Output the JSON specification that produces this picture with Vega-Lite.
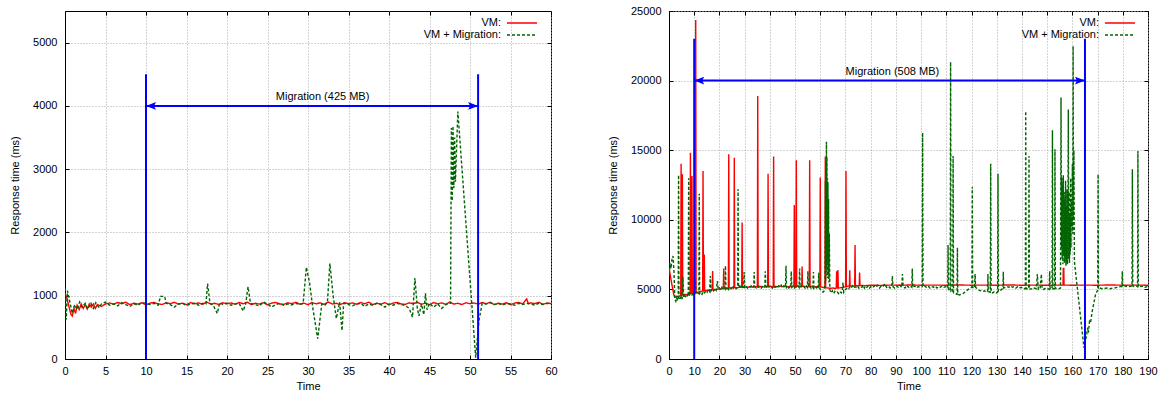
{
  "$schema": "https://vega.github.io/schema/vega-lite/v6.json",
  "padding": {"left": 9, "top": 4, "right": 5, "bottom": 1},
  "spacing": 118,
  "bounds": "flush",
  "resolve": {"scale": {"color": "independent", "strokeDash": "independent"}, "legend": {"color": "independent", "strokeDash": "independent"}},
  "config": {
    "font": "Liberation Sans",
    "view": {"stroke": "#000000", "strokeWidth": 1},
    "axis": {
      "labelFont": "Liberation Sans", "titleFont": "Liberation Sans",
      "labelFontSize": 11, "titleFontSize": 11, "titleFontWeight": "normal",
      "labelColor": "#000000", "titleColor": "#000000",
      "tickColor": "#000000", "domainColor": "#000000", "tickSize": -4,
      "gridColor": "#a8a8a8", "gridDash": [1, 2], "gridWidth": 1, "gridOpacity": 1,
      "labelFlush": false, "labelOverlap": false, "format": "d"
    },
    "axisX": {"labelPadding": 10, "titlePadding": 4},
    "axisY": {"labelPadding": 12, "titlePadding": 12},
    "legend": {
      "orient": "none", "padding": 0, "rowPadding": 1,
      "symbolType": "M-3,0H3", "symbolSize": 100, "symbolStrokeWidth": 1.5,
      "labelFont": "Liberation Sans", "labelFontSize": 11, "labelColor": "#000000",
      "labelAlign": "right", "labelOffset": -27
    }
  },
  "datasets": {
    "lvm": [
      {"t":0,"v":1030},{"t":0.25,"v":960},{"t":0.5,"v":820},{"t":0.75,"v":700},{"t":0.9,"v":680},{"t":1.1,"v":800},{"t":1.3,"v":720},{"t":1.5,"v":850},{"t":1.75,"v":780},{"t":2,"v":870},{"t":2.25,"v":800},{"t":2.5,"v":860},{"t":2.75,"v":790},{"t":3,"v":870},{"t":3.25,"v":820},{"t":3.5,"v":870},{"t":3.75,"v":800},{"t":4,"v":860},{"t":4.5,"v":830},{"t":5,"v":870},
      {"t":5.5,"v":886},{"t":6,"v":866},{"t":6.5,"v":893},{"t":7,"v":873},{"t":7.5,"v":898},{"t":8,"v":860},{"t":8.5,"v":881},{"t":9,"v":868},{"t":9.5,"v":890},{"t":10,"v":856},{"t":10.5,"v":884},{"t":11,"v":894},{"t":11.5,"v":870},{"t":12,"v":863},{"t":12.5,"v":888},{"t":13,"v":875},{"t":13.5,"v":896},{"t":14,"v":866},{"t":14.5,"v":883},{"t":15,"v":858},{"t":15.5,"v":892},{"t":16,"v":872},{"t":16.5,"v":887},{"t":17,"v":864},{"t":17.5,"v":900},{"t":18,"v":869},{"t":18.5,"v":880},{"t":19,"v":861},{"t":19.5,"v":889},{"t":20,"v":874},{"t":20.5,"v":886},{"t":21,"v":866},{"t":21.5,"v":893},{"t":22,"v":873},{"t":22.5,"v":898},{"t":23,"v":860},{"t":23.5,"v":881},{"t":24,"v":868},{"t":24.5,"v":890},{"t":25,"v":856},{"t":25.5,"v":884},{"t":26,"v":894},{"t":26.5,"v":870},{"t":27,"v":863},{"t":27.5,"v":888},{"t":28,"v":875},{"t":28.5,"v":896},{"t":29,"v":866},{"t":29.5,"v":883},{"t":30,"v":858},{"t":30.5,"v":892},{"t":31,"v":872},{"t":31.5,"v":887},{"t":32,"v":864},{"t":32.5,"v":900},{"t":33,"v":869},{"t":33.5,"v":880},{"t":34,"v":861},{"t":34.5,"v":889},{"t":35,"v":874},{"t":35.5,"v":886},{"t":36,"v":866},{"t":36.5,"v":893},{"t":37,"v":873},{"t":37.5,"v":898},{"t":38,"v":860},{"t":38.5,"v":881},{"t":39,"v":868},{"t":39.5,"v":890},{"t":40,"v":856},{"t":40.5,"v":884},{"t":41,"v":894},{"t":41.5,"v":870},{"t":42,"v":863},{"t":42.5,"v":888},{"t":43,"v":875},{"t":43.5,"v":896},{"t":44,"v":866},{"t":44.5,"v":883},{"t":45,"v":858},{"t":45.5,"v":892},{"t":46,"v":872},{"t":46.5,"v":887},{"t":47,"v":864},{"t":47.5,"v":900},{"t":48,"v":869},{"t":48.5,"v":880},{"t":49,"v":861},{"t":49.5,"v":889},{"t":50,"v":874},{"t":50.5,"v":886},{"t":51,"v":866},{"t":51.5,"v":893},{"t":52,"v":873},{"t":52.5,"v":898},{"t":53,"v":860},{"t":53.5,"v":881},{"t":54,"v":868},{"t":54.5,"v":890},{"t":55,"v":856},{"t":55.5,"v":884},{"t":56,"v":894},{"t":56.5,"v":870},{"t":57,"v":950},{"t":57.2,"v":875},{"t":57.5,"v":888},{"t":58,"v":875},{"t":58.5,"v":896},{"t":59,"v":866},{"t":59.5,"v":883},{"t":60,"v":878}
    ],
    "lmig": [
      {"t":0,"v":1120},{"t":0.15,"v":620},{"t":0.3,"v":1080},{"t":0.6,"v":900},{"t":0.9,"v":720},{"t":1.2,"v":860},{"t":1.5,"v":780},{"t":1.8,"v":900},{"t":2.1,"v":820},{"t":2.5,"v":880},{"t":2.8,"v":790},{"t":3.2,"v":880},{"t":3.5,"v":800},{"t":3.8,"v":890},{"t":4.2,"v":810},{"t":4.5,"v":870},{"t":5,"v":900},{"t":5.5,"v":850},{"t":6,"v":870},{"t":6.5,"v":840},{"t":7,"v":890},{"t":7.5,"v":860},{"t":8,"v":830},{"t":8.5,"v":875},{"t":9,"v":850},{"t":9.5,"v":890},{"t":10,"v":880},{"t":10.5,"v":860},{"t":11,"v":880},{"t":11.5,"v":850},{"t":11.8,"v":990},{"t":12.3,"v":990},{"t":12.5,"v":880},{"t":13,"v":860},{"t":13.5,"v":820},{"t":14,"v":870},{"t":14.5,"v":880},{"t":15,"v":845},{"t":15.5,"v":870},{"t":16,"v":880},{"t":16.5,"v":850},{"t":17,"v":880},{"t":17.4,"v":870},{"t":17.6,"v":1190},{"t":17.9,"v":880},{"t":18.3,"v":850},{"t":18.8,"v":720},{"t":19.1,"v":890},{"t":19.5,"v":860},{"t":20,"v":880},{"t":20.5,"v":850},{"t":21,"v":870},{"t":21.5,"v":880},{"t":22,"v":760},{"t":22.3,"v":870},{"t":22.6,"v":1140},{"t":22.9,"v":880},{"t":23.5,"v":860},{"t":24,"v":840},{"t":24.5,"v":900},{"t":25,"v":870},{"t":25.5,"v":820},{"t":26,"v":860},{"t":26.5,"v":880},{"t":27,"v":850},{"t":27.5,"v":870},{"t":28,"v":855},{"t":28.5,"v":880},{"t":29,"v":860},{"t":29.4,"v":880},{"t":29.8,"v":1450},{"t":30.2,"v":1200},{"t":30.6,"v":800},{"t":31.2,"v":320},{"t":31.7,"v":870},{"t":32.1,"v":850},{"t":32.4,"v":900},{"t":32.7,"v":1510},{"t":33.1,"v":1000},{"t":33.5,"v":640},{"t":33.9,"v":900},{"t":34.2,"v":450},{"t":34.4,"v":880},{"t":35,"v":860},{"t":35.5,"v":840},{"t":36,"v":870},{"t":36.5,"v":880},{"t":37,"v":830},{"t":37.5,"v":870},{"t":38,"v":850},{"t":38.5,"v":880},{"t":39,"v":860},{"t":39.5,"v":820},{"t":40,"v":870},{"t":40.5,"v":850},{"t":41,"v":880},{"t":41.5,"v":860},{"t":42,"v":845},{"t":42.5,"v":800},{"t":42.9,"v":660},{"t":43.2,"v":1280},{"t":43.5,"v":800},{"t":43.7,"v":680},{"t":44,"v":870},{"t":44.3,"v":700},{"t":44.5,"v":1040},{"t":44.7,"v":780},{"t":45,"v":880},{"t":45.5,"v":820},{"t":46,"v":870},{"t":46.5,"v":800},{"t":47,"v":860},{"t":47.5,"v":880},{"t":47.6,"v":880},{"t":47.7,"v":3650},{"t":47.8,"v":2500},{"t":47.9,"v":3680},{"t":48,"v":2700},{"t":48.1,"v":3500},{"t":48.2,"v":2800},{"t":48.5,"v":3910},{"t":50.7,"v":20},{"t":50.9,"v":300},{"t":51.1,"v":600},{"t":51.5,"v":880},{"t":52,"v":870},{"t":52.5,"v":890},{"t":53,"v":860},{"t":53.5,"v":880},{"t":54,"v":850},{"t":54.5,"v":880},{"t":55,"v":870},{"t":55.5,"v":850},{"t":56,"v":880},{"t":56.5,"v":860},{"t":57,"v":880},{"t":57.5,"v":870},{"t":58,"v":850},{"t":58.5,"v":880},{"t":59,"v":860},{"t":59.5,"v":880},{"t":60,"v":870}
    ],
    "rvm": [
      {"t":0,"v":6600},{"t":0.5,"v":6000},{"t":1,"v":5500},{"t":1.5,"v":5000},{"t":2,"v":4550},{"t":2.5,"v":4450},{"t":3,"v":4500},{"t":3.5,"v":4480},{"t":4.65,"v":4560},{"t":4.8,"v":14030},{"t":4.95,"v":4580},{"t":5.15,"v":4590},{"t":5.3,"v":13270},{"t":5.45,"v":4600},{"t":6,"v":4640},{"t":7,"v":4620},{"t":8,"v":4700},{"t":8.35,"v":4690},{"t":8.5,"v":14820},{"t":8.65,"v":4700},{"t":8.95,"v":4710},{"t":9.1,"v":13150},{"t":9.25,"v":4720},{"t":10,"v":4760},{"t":10.45,"v":4770},{"t":10.6,"v":24350},{"t":10.75,"v":4780},{"t":11,"v":4800},{"t":12,"v":4820},{"t":13,"v":4870},{"t":13.35,"v":4880},{"t":13.5,"v":13500},{"t":13.65,"v":4890},{"t":13.85,"v":4890},{"t":14,"v":7500},{"t":14.15,"v":4900},{"t":15,"v":4920},{"t":16,"v":4960},{"t":17.15,"v":4980},{"t":17.3,"v":6320},{"t":17.45,"v":4980},{"t":18,"v":4950},{"t":19,"v":5000},{"t":20,"v":5020},{"t":21,"v":5050},{"t":21.55,"v":5060},{"t":21.7,"v":6500},{"t":21.85,"v":5060},{"t":22,"v":5080},{"t":23,"v":5060},{"t":23.55,"v":5100},{"t":23.7,"v":14700},{"t":23.85,"v":5100},{"t":24,"v":5120},{"t":25,"v":5090},{"t":25.75,"v":5140},{"t":25.9,"v":14460},{"t":26.05,"v":5140},{"t":27,"v":5110},{"t":28,"v":5160},{"t":28.85,"v":5150},{"t":29,"v":9800},{"t":29.15,"v":5150},{"t":30,"v":5180},{"t":31,"v":5140},{"t":32,"v":5200},{"t":33,"v":5170},{"t":34,"v":5210},{"t":35.05,"v":5180},{"t":35.2,"v":18900},{"t":35.35,"v":5180},{"t":36,"v":5220},{"t":37,"v":5170},{"t":38,"v":5200},{"t":39.15,"v":5190},{"t":39.3,"v":13300},{"t":39.45,"v":5190},{"t":40,"v":5230},{"t":41,"v":5180},{"t":41.35,"v":5200},{"t":41.5,"v":14540},{"t":41.65,"v":5200},{"t":42,"v":5220},{"t":43,"v":5190},{"t":44,"v":5240},{"t":45,"v":5200},{"t":46,"v":5230},{"t":47,"v":5180},{"t":48,"v":5220},{"t":49,"v":5200},{"t":49.55,"v":5210},{"t":49.7,"v":11060},{"t":49.85,"v":5210},{"t":50.35,"v":5200},{"t":50.5,"v":14270},{"t":50.65,"v":5200},{"t":51,"v":5240},{"t":52,"v":5190},{"t":52.65,"v":5200},{"t":52.8,"v":6650},{"t":52.95,"v":5200},{"t":53,"v":5230},{"t":54,"v":5210},{"t":55,"v":5180},{"t":55.65,"v":5220},{"t":55.8,"v":14270},{"t":55.95,"v":5220},{"t":56,"v":5200},{"t":57,"v":5230},{"t":58,"v":5190},{"t":59,"v":5210},{"t":59.85,"v":5180},{"t":60,"v":13030},{"t":60.15,"v":5180},{"t":61,"v":5150},{"t":61.85,"v":5120},{"t":62,"v":14540},{"t":62.15,"v":5120},{"t":63,"v":5100},{"t":64,"v":5080},{"t":65,"v":5100},{"t":66,"v":5060},{"t":66.35,"v":5100},{"t":66.5,"v":6300},{"t":66.65,"v":5100},{"t":66.85,"v":5100},{"t":67,"v":6400},{"t":67.15,"v":5100},{"t":68,"v":5120},{"t":69,"v":5150},{"t":70.05,"v":5200},{"t":70.2,"v":13500},{"t":70.35,"v":5200},{"t":71,"v":5230},{"t":71.55,"v":5240},{"t":71.7,"v":6370},{"t":71.85,"v":5240},{"t":72,"v":5250},{"t":73,"v":5240},{"t":73.65,"v":5260},{"t":73.8,"v":8190},{"t":73.95,"v":5260},{"t":74,"v":5250},{"t":75,"v":5270},{"t":75.45,"v":5270},{"t":75.6,"v":6220},{"t":75.75,"v":5270},{"t":76,"v":5280},{"t":78,"v":5270},{"t":80,"v":5300},{"t":84,"v":5290},{"t":88,"v":5310},{"t":92,"v":5300},{"t":96,"v":5320},{"t":100,"v":5300},{"t":105,"v":5310},{"t":110,"v":5300},{"t":115,"v":5320},{"t":120,"v":5300},{"t":125,"v":5310},{"t":130,"v":5300},{"t":135,"v":5320},{"t":140,"v":5300},{"t":145,"v":5310},{"t":150,"v":5300},{"t":156.3,"v":5310},{"t":156.4,"v":6500},{"t":156.6,"v":6500},{"t":156.7,"v":5310},{"t":160,"v":5300},{"t":165,"v":5310},{"t":170,"v":5300},{"t":175,"v":5320},{"t":180,"v":5300},{"t":185,"v":5310},{"t":190,"v":5300}
    ],
    "rmig": [
      {"t":0,"v":6000},{"t":0.4,"v":6900},{"t":0.8,"v":6500},{"t":1.2,"v":7200},{"t":1.6,"v":7400},{"t":2,"v":6200},{"t":2.3,"v":4300},{"t":2.7,"v":4150},{"t":3,"v":4400},{"t":3.4,"v":4200},{"t":3.65,"v":4300},{"t":3.8,"v":13220},{"t":3.95,"v":4350},{"t":4.4,"v":4250},{"t":4.8,"v":4500},{"t":5.2,"v":4300},{"t":5.5,"v":5900},{"t":5.8,"v":4400},{"t":6.3,"v":4550},{"t":6.8,"v":4400},{"t":7.3,"v":4600},{"t":7.65,"v":4500},{"t":7.8,"v":12980},{"t":7.95,"v":4500},{"t":8.4,"v":4700},{"t":8.9,"v":4550},{"t":9.4,"v":4650},{"t":9.9,"v":4600},{"t":10.4,"v":5700},{"t":10.7,"v":4650},{"t":11.2,"v":4750},{"t":11.85,"v":4700},{"t":12,"v":11880},{"t":12.15,"v":4700},{"t":12.6,"v":4800},{"t":13.1,"v":4650},{"t":13.6,"v":4850},{"t":14.1,"v":4750},{"t":14.6,"v":4900},{"t":15.1,"v":4800},{"t":15.6,"v":5000},{"t":16.1,"v":4850},{"t":16.4,"v":5960},{"t":16.7,"v":4900},{"t":17.2,"v":5050},{"t":17.7,"v":4900},{"t":18.2,"v":5100},{"t":18.7,"v":4950},{"t":19.2,"v":5600},{"t":19.5,"v":5000},{"t":20,"v":5100},{"t":20.5,"v":4950},{"t":21,"v":5150},{"t":21.5,"v":5000},{"t":22.2,"v":5050},{"t":22.4,"v":6700},{"t":22.6,"v":5050},{"t":23.1,"v":5200},{"t":23.6,"v":5000},{"t":24.1,"v":5150},{"t":24.6,"v":5050},{"t":25.1,"v":5250},{"t":25.6,"v":5100},{"t":26.1,"v":5200},{"t":26.6,"v":5050},{"t":27.25,"v":5150},{"t":27.4,"v":12190},{"t":27.55,"v":5150},{"t":28.1,"v":5250},{"t":28.6,"v":5100},{"t":29.1,"v":5200},{"t":29.6,"v":5150},{"t":29.8,"v":6250},{"t":30,"v":5150},{"t":30.6,"v":5250},{"t":31.1,"v":5100},{"t":31.6,"v":5200},{"t":32.1,"v":5150},{"t":32.6,"v":5250},{"t":33.1,"v":5100},{"t":33.6,"v":5200},{"t":33.8,"v":6250},{"t":34,"v":5200},{"t":34.6,"v":5100},{"t":35.1,"v":5250},{"t":35.6,"v":5150},{"t":36.1,"v":5200},{"t":36.6,"v":5100},{"t":37.1,"v":5250},{"t":37.6,"v":5150},{"t":38,"v":5200},{"t":38.2,"v":6300},{"t":38.4,"v":5200},{"t":39,"v":5100},{"t":39.5,"v":5250},{"t":40,"v":5150},{"t":40.5,"v":5200},{"t":41,"v":5100},{"t":41.5,"v":5250},{"t":42,"v":5150},{"t":42.5,"v":5200},{"t":43,"v":5100},{"t":43.5,"v":5250},{"t":44,"v":5150},{"t":44.5,"v":5300},{"t":45,"v":5100},{"t":45.5,"v":5250},{"t":46.2,"v":5150},{"t":46.4,"v":6700},{"t":46.6,"v":5150},{"t":47,"v":5250},{"t":47.5,"v":5100},{"t":48,"v":5200},{"t":48.3,"v":5150},{"t":48.5,"v":6300},{"t":48.7,"v":5150},{"t":49.2,"v":5250},{"t":49.7,"v":5100},{"t":50.2,"v":5200},{"t":50.7,"v":5150},{"t":51.2,"v":5250},{"t":51.6,"v":5150},{"t":51.8,"v":6500},{"t":52,"v":5150},{"t":52.5,"v":5250},{"t":53,"v":5100},{"t":53.5,"v":5200},{"t":54,"v":5100},{"t":54.5,"v":5250},{"t":54.9,"v":5150},{"t":55.1,"v":6300},{"t":55.3,"v":5150},{"t":55.8,"v":5200},{"t":56.3,"v":5100},{"t":56.8,"v":5250},{"t":57.1,"v":5150},{"t":57.3,"v":6250},{"t":57.5,"v":5100},{"t":58,"v":5200},{"t":58.5,"v":5100},{"t":59,"v":5200},{"t":59.2,"v":5100},{"t":59.4,"v":6200},{"t":59.6,"v":5100},{"t":60.1,"v":5000},{"t":60.6,"v":4900},{"t":61.1,"v":4800},{"t":61.6,"v":4900},{"t":61.9,"v":5500},{"t":62.05,"v":12800},{"t":62.15,"v":5600},{"t":62.25,"v":14200},{"t":62.35,"v":6000},{"t":62.45,"v":15600},{"t":62.55,"v":7000},{"t":62.65,"v":14500},{"t":62.75,"v":6500},{"t":62.85,"v":13000},{"t":62.95,"v":5800},{"t":63.05,"v":12700},{"t":63.15,"v":6000},{"t":63.3,"v":11500},{"t":63.45,"v":5500},{"t":63.6,"v":9000},{"t":63.8,"v":5000},{"t":64.3,"v":4750},{"t":64.8,"v":4900},{"t":65.3,"v":4700},{"t":65.8,"v":4850},{"t":66.3,"v":4750},{"t":66.8,"v":4800},{"t":67.3,"v":4700},{"t":67.8,"v":4850},{"t":68.3,"v":4750},{"t":68.8,"v":4900},{"t":69,"v":5500},{"t":69.3,"v":4800},{"t":69.8,"v":4950},{"t":70.3,"v":5050},{"t":70.8,"v":5150},{"t":71.3,"v":5050},{"t":71.8,"v":5200},{"t":72.3,"v":5100},{"t":72.8,"v":5250},{"t":73.3,"v":5100},{"t":73.8,"v":5200},{"t":74.3,"v":5150},{"t":74.8,"v":5250},{"t":75.3,"v":5100},{"t":75.8,"v":5200},{"t":76.5,"v":5150},{"t":77,"v":5300},{"t":77.5,"v":5100},{"t":78,"v":5250},{"t":78.5,"v":5150},{"t":79,"v":5250},{"t":79.5,"v":5100},{"t":80,"v":5200},{"t":80.7,"v":5100},{"t":81.4,"v":5250},{"t":82.1,"v":5150},{"t":82.8,"v":5300},{"t":83.5,"v":5100},{"t":84.2,"v":5250},{"t":84.9,"v":5200},{"t":85.6,"v":5400},{"t":86.3,"v":5150},{"t":87,"v":5250},{"t":87.7,"v":5100},{"t":88.4,"v":5200},{"t":88.6,"v":5960},{"t":88.8,"v":5200},{"t":89.5,"v":5100},{"t":90.2,"v":5250},{"t":90.9,"v":5150},{"t":91.6,"v":5300},{"t":92.3,"v":5150},{"t":92.6,"v":6100},{"t":92.9,"v":5200},{"t":93.6,"v":5100},{"t":94.3,"v":5300},{"t":95,"v":5150},{"t":95.7,"v":5250},{"t":96.3,"v":5150},{"t":96.5,"v":6500},{"t":96.7,"v":5150},{"t":97.4,"v":5250},{"t":98.1,"v":5100},{"t":98.8,"v":5200},{"t":99.5,"v":5150},{"t":100.45,"v":5200},{"t":100.6,"v":16260},{"t":100.75,"v":5200},{"t":101.4,"v":5250},{"t":102.1,"v":5150},{"t":102.8,"v":5250},{"t":103.5,"v":5100},{"t":104.2,"v":5200},{"t":104.9,"v":5150},{"t":105.6,"v":5250},{"t":106.3,"v":5100},{"t":107,"v":5200},{"t":107.7,"v":5150},{"t":108.4,"v":5250},{"t":109.1,"v":5150},{"t":109.8,"v":5200},{"t":110.55,"v":5100},{"t":110.7,"v":8190},{"t":110.85,"v":5000},{"t":111.55,"v":4900},{"t":111.7,"v":21340},{"t":111.85,"v":4850},{"t":112.55,"v":4800},{"t":112.7,"v":14580},{"t":112.85,"v":4750},{"t":113.5,"v":4700},{"t":114.25,"v":4650},{"t":114.4,"v":8000},{"t":114.55,"v":4650},{"t":115.2,"v":4600},{"t":115.9,"v":4650},{"t":116.6,"v":4700},{"t":117.3,"v":4800},{"t":118,"v":4900},{"t":118.7,"v":5000},{"t":119.4,"v":5100},{"t":120.15,"v":5150},{"t":120.3,"v":12360},{"t":120.45,"v":5150},{"t":121.2,"v":5100},{"t":121.4,"v":6100},{"t":121.6,"v":5150},{"t":122.3,"v":5050},{"t":123,"v":4950},{"t":123.7,"v":4900},{"t":124.4,"v":4850},{"t":125.1,"v":4900},{"t":125.8,"v":4800},{"t":126.35,"v":4850},{"t":126.5,"v":6100},{"t":126.65,"v":4850},{"t":127.45,"v":4800},{"t":127.6,"v":14030},{"t":127.75,"v":4800},{"t":128.4,"v":4750},{"t":129.1,"v":4850},{"t":129.8,"v":4750},{"t":130.35,"v":4800},{"t":130.5,"v":13300},{"t":130.65,"v":4850},{"t":131.3,"v":4900},{"t":132,"v":5000},{"t":132.45,"v":5100},{"t":132.6,"v":6270},{"t":132.75,"v":5100},{"t":133.4,"v":5150},{"t":134.1,"v":5200},{"t":134.8,"v":5150},{"t":135.5,"v":5250},{"t":136.2,"v":5150},{"t":136.9,"v":5200},{"t":137.6,"v":5100},{"t":138.3,"v":5200},{"t":139,"v":5100},{"t":139.7,"v":5150},{"t":140.4,"v":5050},{"t":141.35,"v":5050},{"t":141.5,"v":17800},{"t":141.65,"v":5050},{"t":142.65,"v":5050},{"t":142.8,"v":14580},{"t":142.95,"v":5000},{"t":143.6,"v":5050},{"t":144.3,"v":5000},{"t":145,"v":5100},{"t":145.7,"v":5050},{"t":146.1,"v":6100},{"t":146.5,"v":5000},{"t":147.2,"v":5050},{"t":147.7,"v":6100},{"t":148,"v":5050},{"t":148.7,"v":5000},{"t":149.4,"v":5100},{"t":150.1,"v":5050},{"t":150.8,"v":5000},{"t":151,"v":6300},{"t":151.2,"v":5050},{"t":151.95,"v":5050},{"t":152.1,"v":16430},{"t":152.25,"v":5050},{"t":152.95,"v":5050},{"t":153.1,"v":15060},{"t":153.25,"v":5050},{"t":153.9,"v":5100},{"t":154.6,"v":5050},{"t":155.3,"v":5100},{"t":155.5,"v":18780},{"t":155.65,"v":8000},{"t":155.8,"v":13000},{"t":155.95,"v":7200},{"t":156.1,"v":12500},{"t":156.25,"v":6800},{"t":156.4,"v":13200},{"t":156.55,"v":7500},{"t":156.7,"v":12000},{"t":156.85,"v":6900},{"t":157,"v":11500},{"t":157.15,"v":7200},{"t":157.3,"v":12800},{"t":157.45,"v":6700},{"t":157.6,"v":11000},{"t":157.75,"v":7000},{"t":157.9,"v":12200},{"t":158.05,"v":6800},{"t":158.25,"v":11800},{"t":158.4,"v":17930},{"t":158.55,"v":7200},{"t":158.7,"v":12000},{"t":158.85,"v":6900},{"t":159,"v":10500},{"t":159.15,"v":7500},{"t":159.3,"v":13000},{"t":159.45,"v":8000},{"t":159.6,"v":11500},{"t":159.8,"v":9500},{"t":160,"v":14000},{"t":160.15,"v":9000},{"t":160.3,"v":22490},{"t":160.45,"v":10000},{"t":160.6,"v":15000},{"t":160.8,"v":7000},{"t":164.6,"v":810},{"t":165.2,"v":1300},{"t":165.7,"v":1800},{"t":166,"v":2150},{"t":166.4,"v":2000},{"t":166.8,"v":2700},{"t":167.2,"v":2600},{"t":167.9,"v":3450},{"t":168.5,"v":4000},{"t":169.2,"v":4650},{"t":169.9,"v":4900},{"t":170.05,"v":5000},{"t":170.2,"v":13270},{"t":170.35,"v":5030},{"t":170.9,"v":5100},{"t":171.6,"v":5050},{"t":172.3,"v":5100},{"t":173,"v":5080},{"t":174,"v":5100},{"t":175,"v":5050},{"t":176,"v":5100},{"t":177,"v":5120},{"t":178,"v":5150},{"t":179,"v":5200},{"t":179.65,"v":5200},{"t":179.8,"v":6300},{"t":179.95,"v":5200},{"t":180.7,"v":5250},{"t":181.4,"v":5200},{"t":182.1,"v":5250},{"t":182.8,"v":5200},{"t":183.65,"v":5250},{"t":183.8,"v":13630},{"t":183.95,"v":5250},{"t":184.6,"v":5200},{"t":185.3,"v":5250},{"t":185.85,"v":5200},{"t":186,"v":14940},{"t":186.15,"v":5200},{"t":186.8,"v":5250},{"t":187.5,"v":5200},{"t":188.2,"v":5250},{"t":188.9,"v":5150},{"t":189.6,"v":5200},{"t":190,"v":5200}
    ]
  },
  "hconcat": [
    {
      "width": 486,
      "height": 348,
      "layer": [
        {
          "data": {"name": "lvm"},
          "mark": {"type": "line", "strokeWidth": 1.4, "clip": true},
          "encoding": {
            "x": {"field": "t", "type": "quantitative", "scale": {"domain": [0, 60], "nice": false, "zero": false},
                  "axis": {"orient": "bottom", "title": "Time", "values": [0,5,10,15,20,25,30,35,40,45,50,55,60], "grid": true}},
            "y": {"field": "v", "type": "quantitative", "scale": {"domain": [0, 5500], "nice": false},
                  "axis": {"orient": "left", "title": "Response time (ms)", "values": [0,1000,2000,3000,4000,5000], "grid": true}},
            "color": {"datum": "VM", "type": "nominal", "scale": {"domain": ["VM", "VM + Migration"], "range": ["#ff0000", "#006400"]},
                      "legend": {"title": null, "labelExpr": "datum.label + ':'", "legendX": 451, "legendY": 6}},
            "strokeDash": {"datum": "VM", "type": "nominal", "scale": {"domain": ["VM", "VM + Migration"], "range": [[1, 0], [3, 2]]},
                           "legend": {"title": null, "labelExpr": "datum.label + ':'", "legendX": 451, "legendY": 6}}
          }
        },
        {
          "data": {"name": "lmig"},
          "mark": {"type": "line", "strokeWidth": 1.4, "clip": true},
          "encoding": {
            "x": {"field": "t", "type": "quantitative", "scale": {"domain": [0, 60], "nice": false, "zero": false}, "axis": null},
            "y": {"field": "v", "type": "quantitative", "scale": {"domain": [0, 5500], "nice": false}, "axis": null},
            "color": {"datum": "VM + Migration", "type": "nominal"},
            "strokeDash": {"datum": "VM + Migration", "type": "nominal"}
          }
        },
        {
          "data": {"values": [{"t": 10, "bottom": 0, "top": 4500}, {"t": 51, "bottom": 0, "top": 4500}]},
          "mark": {"type": "rule", "color": "#0000ff", "strokeWidth": 2},
          "encoding": {
            "x": {"field": "t", "type": "quantitative", "scale": {"domain": [0, 60], "nice": false, "zero": false}, "axis": null},
            "y": {"field": "bottom", "type": "quantitative", "scale": {"domain": [0, 5500], "nice": false}, "axis": null},
            "y2": {"field": "top"}
          }
        },
        {
          "data": {"values": [{"start": 10, "end": 51, "level": 4000}]},
          "mark": {"type": "rule", "color": "#0000ff", "strokeWidth": 2},
          "encoding": {
            "x": {"field": "start", "type": "quantitative", "scale": {"domain": [0, 60], "nice": false, "zero": false}, "axis": null},
            "x2": {"field": "end"},
            "y": {"field": "level", "type": "quantitative", "scale": {"domain": [0, 5500], "nice": false}, "axis": null}
          }
        },
        {
          "data": {"values": [{"t": 10, "level": 4000, "dir": "left"}, {"t": 51, "level": 4000, "dir": "right"}]},
          "mark": {"type": "point", "filled": true, "color": "#0000ff", "opacity": 1, "size": 400},
          "encoding": {
            "x": {"field": "t", "type": "quantitative", "scale": {"domain": [0, 60], "nice": false, "zero": false}, "axis": null},
            "y": {"field": "level", "type": "quantitative", "scale": {"domain": [0, 5500], "nice": false}, "axis": null},
            "shape": {"field": "dir", "type": "nominal", "legend": null,
                      "scale": {"domain": ["left", "right"], "range": ["M0,0L1,-0.38L0.8,0L1,0.38Z", "M0,0L-1,-0.38L-0.8,0L-1,0.38Z"]}}
          }
        },
        {
          "data": {"values": [{"t": 31.8, "level": 4000, "label": "Migration (425 MB)"}]},
          "mark": {"type": "text", "fontSize": 11, "color": "#000000", "dy": -9, "baseline": "middle", "align": "center"},
          "encoding": {
            "x": {"field": "t", "type": "quantitative", "scale": {"domain": [0, 60], "nice": false, "zero": false}, "axis": null},
            "y": {"field": "level", "type": "quantitative", "scale": {"domain": [0, 5500], "nice": false}, "axis": null},
            "text": {"field": "label", "type": "nominal"}
          }
        },
        {
          "data": {"values": [{"t": 10, "level": 4000}]},
          "mark": {"type": "point", "opacity": 0},
          "encoding": {
            "x": {"field": "t", "type": "quantitative", "scale": {"domain": [0, 60], "nice": false, "zero": false},
                  "axis": {"orient": "top", "labels": false, "title": null, "grid": false, "domain": false, "values": [0,5,10,15,20,25,30,35,40,45,50,55,60]}},
            "y": {"field": "level", "type": "quantitative", "scale": {"domain": [0, 5500], "nice": false},
                  "axis": {"orient": "right", "labels": false, "title": null, "grid": false, "domain": false, "values": [0,1000,2000,3000,4000,5000]}}
          }
        }
      ],
      "resolve": {"axis": {"x": "independent", "y": "independent"}}
    },
    {
      "width": 479,
      "height": 348,
      "layer": [
        {
          "data": {"name": "rvm"},
          "mark": {"type": "line", "strokeWidth": 1.4, "clip": true},
          "encoding": {
            "x": {"field": "t", "type": "quantitative", "scale": {"domain": [0, 190], "nice": false, "zero": false},
                  "axis": {"orient": "bottom", "title": "Time", "values": [0,10,20,30,40,50,60,70,80,90,100,110,120,130,140,150,160,170,180,190], "grid": true}},
            "y": {"field": "v", "type": "quantitative", "scale": {"domain": [0, 25000], "nice": false},
                  "axis": {"orient": "left", "title": "Response time (ms)", "values": [0,5000,10000,15000,20000,25000], "grid": true}},
            "color": {"datum": "VM", "type": "nominal", "scale": {"domain": ["VM", "VM + Migration"], "range": ["#ff0000", "#006400"]},
                      "legend": {"title": null, "labelExpr": "datum.label + ':'", "legendX": 445, "legendY": 6}},
            "strokeDash": {"datum": "VM", "type": "nominal", "scale": {"domain": ["VM", "VM + Migration"], "range": [[1, 0], [3, 2]]},
                           "legend": {"title": null, "labelExpr": "datum.label + ':'", "legendX": 445, "legendY": 6}}
          }
        },
        {
          "data": {"name": "rmig"},
          "mark": {"type": "line", "strokeWidth": 1.4, "clip": true},
          "encoding": {
            "x": {"field": "t", "type": "quantitative", "scale": {"domain": [0, 190], "nice": false, "zero": false}, "axis": null},
            "y": {"field": "v", "type": "quantitative", "scale": {"domain": [0, 25000], "nice": false}, "axis": null},
            "color": {"datum": "VM + Migration", "type": "nominal"},
            "strokeDash": {"datum": "VM + Migration", "type": "nominal"}
          }
        },
        {
          "data": {"values": [{"t": 10, "bottom": 0, "top": 23000}, {"t": 165, "bottom": 0, "top": 23000}]},
          "mark": {"type": "rule", "color": "#0000ff", "strokeWidth": 2},
          "encoding": {
            "x": {"field": "t", "type": "quantitative", "scale": {"domain": [0, 190], "nice": false, "zero": false}, "axis": null},
            "y": {"field": "bottom", "type": "quantitative", "scale": {"domain": [0, 25000], "nice": false}, "axis": null},
            "y2": {"field": "top"}
          }
        },
        {
          "data": {"values": [{"start": 10, "end": 165, "level": 20000}]},
          "mark": {"type": "rule", "color": "#0000ff", "strokeWidth": 2},
          "encoding": {
            "x": {"field": "start", "type": "quantitative", "scale": {"domain": [0, 190], "nice": false, "zero": false}, "axis": null},
            "x2": {"field": "end"},
            "y": {"field": "level", "type": "quantitative", "scale": {"domain": [0, 25000], "nice": false}, "axis": null}
          }
        },
        {
          "data": {"values": [{"t": 10, "level": 20000, "dir": "left"}, {"t": 165, "level": 20000, "dir": "right"}]},
          "mark": {"type": "point", "filled": true, "color": "#0000ff", "opacity": 1, "size": 400},
          "encoding": {
            "x": {"field": "t", "type": "quantitative", "scale": {"domain": [0, 190], "nice": false, "zero": false}, "axis": null},
            "y": {"field": "level", "type": "quantitative", "scale": {"domain": [0, 25000], "nice": false}, "axis": null},
            "shape": {"field": "dir", "type": "nominal", "legend": null,
                      "scale": {"domain": ["left", "right"], "range": ["M0,0L1,-0.38L0.8,0L1,0.38Z", "M0,0L-1,-0.38L-0.8,0L-1,0.38Z"]}}
          }
        },
        {
          "data": {"values": [{"t": 88.6, "level": 20000, "label": "Migration (508 MB)"}]},
          "mark": {"type": "text", "fontSize": 11, "color": "#000000", "dy": -9, "baseline": "middle", "align": "center"},
          "encoding": {
            "x": {"field": "t", "type": "quantitative", "scale": {"domain": [0, 190], "nice": false, "zero": false}, "axis": null},
            "y": {"field": "level", "type": "quantitative", "scale": {"domain": [0, 25000], "nice": false}, "axis": null},
            "text": {"field": "label", "type": "nominal"}
          }
        },
        {
          "data": {"values": [{"t": 10, "level": 20000}]},
          "mark": {"type": "point", "opacity": 0},
          "encoding": {
            "x": {"field": "t", "type": "quantitative", "scale": {"domain": [0, 190], "nice": false, "zero": false},
                  "axis": {"orient": "top", "labels": false, "title": null, "grid": false, "domain": false, "values": [0,10,20,30,40,50,60,70,80,90,100,110,120,130,140,150,160,170,180,190]}},
            "y": {"field": "level", "type": "quantitative", "scale": {"domain": [0, 25000], "nice": false},
                  "axis": {"orient": "right", "labels": false, "title": null, "grid": false, "domain": false, "values": [0,5000,10000,15000,20000,25000]}}
          }
        }
      ],
      "resolve": {"axis": {"x": "independent", "y": "independent"}}
    }
  ]
}
